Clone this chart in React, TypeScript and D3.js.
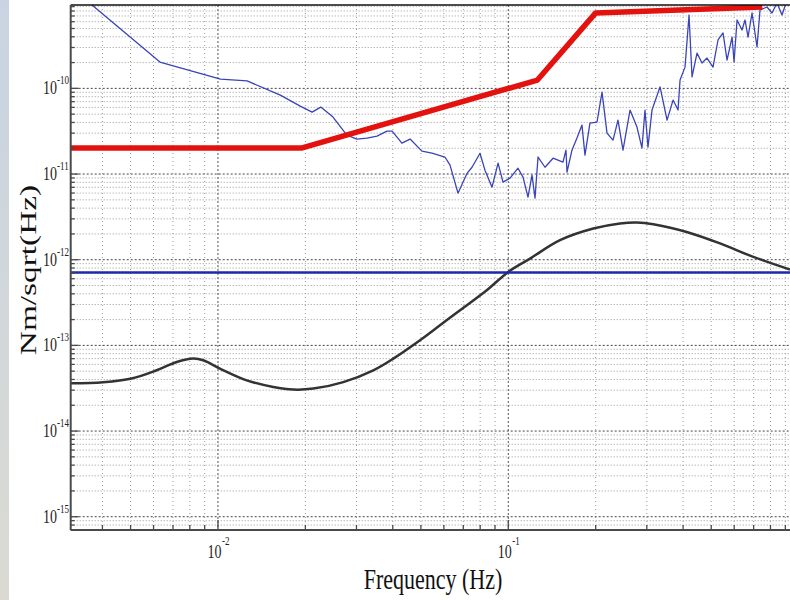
import React from "react";
import * as d3 from "d3";

// ---- data ----
const noiseFreq = [0.00311, 0.00631, 0.0102, 0.0126, 0.0164, 0.0192, 0.0211, 0.0226, 0.0249, 0.0278, 0.0301, 0.0326, 0.0353, 0.0382, 0.0398, 0.043, 0.0459, 0.0504, 0.0546, 0.0605, 0.063, 0.0671, 0.0721, 0.075, 0.0799, 0.0831, 0.0879, 0.0922, 0.0959, 0.1014, 0.108, 0.1124, 0.1169, 0.1207, 0.1236, 0.1266, 0.1338, 0.1426, 0.1543, 0.158, 0.1593, 0.1657, 0.1724, 0.1794, 0.1837, 0.1911, 0.2021, 0.2103, 0.2188, 0.2295, 0.2387, 0.2484, 0.2626, 0.2775, 0.2887, 0.2957, 0.3028, 0.3126, 0.3332, 0.3523, 0.3694, 0.3843, 0.3905, 0.4062, 0.4193, 0.4294, 0.4467, 0.4648, 0.4836, 0.5071, 0.5277, 0.5492, 0.5668, 0.5898, 0.5993, 0.6137, 0.6383, 0.6538, 0.6695, 0.6911, 0.7191, 0.7362, 0.7784, 0.8098, 0.8425, 0.8766, 0.9124];
const noiseValue = [1.52e-9, 2.03e-10, 1.28e-10, 1.22e-10, 8.35e-11, 6.21e-11, 5.28e-11, 6.05e-11, 4.62e-11, 2.85e-11, 2.56e-11, 2.63e-11, 2.77e-11, 3.17e-11, 3.17e-11, 2.3e-11, 2.56e-11, 1.85e-11, 1.75e-11, 1.58e-11, 1.27e-11, 5.98e-12, 1.02e-11, 1.2e-11, 1.75e-11, 1.11e-11, 7.03e-12, 1.34e-11, 8.04e-12, 8.96e-12, 1.17e-11, 9.2e-12, 5.37e-12, 9.71e-12, 5.23e-12, 1.58e-11, 1.2e-11, 1.53e-11, 1.38e-11, 1.9e-11, 1.05e-11, 1.9e-11, 2.63e-11, 3.73e-11, 1.66e-11, 3.93e-11, 4.04e-11, 9.05e-11, 3.0e-11, 2.49e-11, 4.26e-11, 1.9e-11, 5.58e-11, 3.53e-11, 2.01e-11, 5.58e-11, 2.06e-11, 5.58e-11, 1.04e-10, 4.26e-11, 7.3e-11, 5.58e-11, 1.25e-10, 1.77e-10, 7.18e-10, 1.36e-10, 2.58e-10, 1.98e-10, 2.26e-10, 1.77e-10, 3.67e-10, 4.43e-10, 2.14e-10, 3.97e-10, 2.03e-10, 6.28e-10, 4.8e-10, 6.28e-10, 3.97e-10, 7.58e-10, 3.04e-10, 8.22e-10, 8.91e-10, 7.58e-10, 9.92e-10, 7.18e-10, 1.08e-9];

const reqFreq = [0.00311, 0.0195, 0.126, 0.2, 0.75];
const reqValue = [2.02e-11, 2.02e-11, 1.25e-10, 7.6e-10, 8.9e-10];

const modelFreq = [0.00311, 0.00402, 0.00504, 0.00615, 0.00721, 0.00822, 0.0089, 0.01016, 0.01256, 0.01551, 0.01817, 0.0213, 0.02702, 0.03428, 0.04017, 0.04965, 0.05818, 0.0682, 0.08429, 0.1, 0.1188, 0.1507, 0.1963, 0.2426, 0.2769, 0.3159, 0.4117, 0.5362, 0.6982, 0.9342];
const modelValue = [3.61e-14, 3.71e-14, 4.1e-14, 5.12e-14, 6.4e-14, 7.01e-14, 6.7e-14, 5.36e-14, 3.91e-14, 3.27e-14, 3.05e-14, 3.13e-14, 3.73e-14, 5.12e-14, 7.01e-14, 1.15e-13, 1.72e-13, 2.57e-13, 4.4e-13, 7.2e-13, 1.03e-12, 1.69e-12, 2.31e-12, 2.65e-12, 2.72e-12, 2.6e-12, 2.11e-12, 1.55e-12, 1.08e-12, 7.69e-13];

const levelValue = 7.1e-13;

const xTickExponents = [-2, -1];
const yTickExponents = [-15, -14, -13, -12, -11, -10];

const xLabel = "Frequency (Hz)";
const yLabel = "Nm/sqrt(Hz)";

// ---- layout ----
const W = 790;
const H = 600;
const left = 70.7;
const right = 800;
const top = 5;
const bottom = 530;

export default function App() {
  const x = d3.scaleLog().domain([0.00311, 1.011]).range([left, right]);
  const y = d3.scaleLog().domain([7.0e-16, 9.4e-10]).range([bottom, top]);

  const xMinor: number[] = [];
  for (let e = -3; e <= 0; e++) for (let k = 1; k <= 9; k++) {
    const v = k * Math.pow(10, e);
    if (x(v) >= left && x(v) <= W) xMinor.push(v);
  }
  const yMinor: number[] = [];
  for (let e = -16; e <= -9; e++) for (let k = 1; k <= 9; k++) {
    const v = k * Math.pow(10, e);
    if (y(v) >= top && y(v) <= bottom) yMinor.push(v);
  }
  const isMajor = (v: number) => Math.abs(Math.log10(v) - Math.round(Math.log10(v))) < 1e-6;

  const line = d3.line<[number, number]>().x((d) => x(d[0])).y((d) => y(d[1]));
  const smooth = d3.line<[number, number]>().x((d) => x(d[0])).y((d) => y(d[1])).curve(d3.curveCatmullRom.alpha(0.5));
  const noise = line(noiseFreq.map((f, i) => [f, noiseValue[i]]));
  const req = line(reqFreq.map((f, i) => [f, reqValue[i]]));
  const model = smooth(modelFreq.map((f, i) => [f, modelValue[i]]));

  const serif = "'Liberation Serif', 'DejaVu Serif', serif";
  const axisColor = "#4a4a4a";

  return (
    <div style={{ position: "absolute", left: 0, top: 0 }}>
      <svg width={W} height={H} style={{ display: "block", background: "#fff" }}>
        <defs>
          <linearGradient id="strip" x1="0" y1="0" x2="0" y2="1">
            <stop offset="0" stopColor="#c8d4e2" />
            <stop offset="1" stopColor="#dadad2" />
          </linearGradient>
          <clipPath id="plot">
            <rect x={left} y={top} width={right - left} height={bottom - top} />
          </clipPath>
        </defs>
        <rect x={0} y={0} width={9} height={H} fill="url(#strip)" />

        {/* grid */}
        <g>
          {yMinor.map((v, i) => (
            <line key={"gy" + i} x1={left} x2={W} y1={y(v)} y2={y(v)}
              stroke={isMajor(v) ? "#444" : "#9a9a9a"} strokeWidth={1}
              strokeDasharray={isMajor(v) ? "2,2" : "1,2"} />
          ))}
          {xMinor.map((v, i) => (
            <line key={"gx" + i} x1={x(v)} x2={x(v)} y1={top} y2={bottom}
              stroke={isMajor(v) ? "#555" : "#9a9a9a"} strokeWidth={1}
              strokeDasharray={isMajor(v) ? "2,2" : "1,3"} />
          ))}
        </g>

        {/* data */}
        <g clipPath="url(#plot)">
          <path d={model ?? ""} fill="none" stroke="#333" strokeWidth={2.5} />
          <line x1={left} x2={right} y1={y(levelValue)} y2={y(levelValue)} stroke="#1c2aa8" strokeWidth={2.5} />
          <path d={noise ?? ""} fill="none" stroke="#3a44b8" strokeWidth={1.3} strokeLinejoin="round" />
          <path d={req ?? ""} fill="none" stroke="#e3120f" strokeWidth={5.5} strokeLinejoin="round" />
        </g>

        {/* axes */}
        <line x1={left} x2={W} y1={top} y2={top} stroke="#111" strokeWidth={1.5} />
        <line x1={left} x2={W} y1={bottom} y2={bottom} stroke={axisColor} strokeWidth={2} />
        <line x1={left} x2={left} y1={top} y2={bottom} stroke={axisColor} strokeWidth={2} />
        {xMinor.map((v, i) => (
          <line key={"tx" + i} x1={x(v)} x2={x(v)} y1={bottom} y2={bottom - (isMajor(v) ? 10 : 5)} stroke={axisColor} strokeWidth={1.3} />
        ))}
        {yMinor.map((v, i) => (
          <line key={"ty" + i} x1={left} x2={left + (isMajor(v) ? 8 : 4)} y1={y(v)} y2={y(v)} stroke={axisColor} strokeWidth={1.3} />
        ))}

        {/* y tick labels */}
        {yTickExponents.map((e) => {
          const yy = y(Math.pow(10, e));
          return (
            <g key={"yl" + e} fontFamily={serif} fill="#222">
              <g transform={`translate(57,${yy + 6}) scale(1,1.35)`}>
                <text fontSize={14} textAnchor="end">10</text>
              </g>
              <g transform={`translate(57,${yy - 4}) scale(1,1.35)`}>
                <text fontSize={9}>{String(e)}</text>
              </g>
            </g>
          );
        })}

        {/* x tick labels */}
        {xTickExponents.map((e) => {
          const xx = x(Math.pow(10, e));
          return (
            <g key={"xl" + e} fontFamily={serif} fill="#222">
              <g transform={`translate(${xx + 3.5},558) scale(1,1.35)`}>
                <text fontSize={14} textAnchor="end">10</text>
              </g>
              <g transform={`translate(${xx + 4},545) scale(1,1.35)`}>
                <text fontSize={9}>{String(e)}</text>
              </g>
            </g>
          );
        })}

        {/* axis titles */}
        <g transform="translate(433,589) scale(1,1.3)">
          <text fontFamily={serif} fontSize={22} textAnchor="middle" fill="#111">{xLabel}</text>
        </g>
        <g transform="translate(36,270) rotate(-90) scale(1.45,1)">
          <text fontFamily={serif} fontSize={23} textAnchor="middle" fill="#111">{yLabel}</text>
        </g>
      </svg>
    </div>
  );
}
